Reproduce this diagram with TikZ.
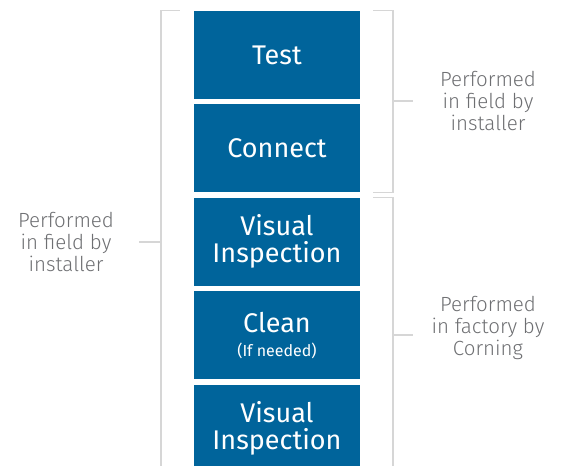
\documentclass[tikz,border=0pt]{standalone}
\usepackage{fontspec}
\setmainfont{Fira Sans}
\newfontfamily\lightfont{Fira Sans Light}
\usetikzlibrary{positioning}
\definecolor{corningblue}{HTML}{00649B}
\definecolor{bracketgray}{HTML}{D6D6D6}
\definecolor{labelgray}{HTML}{6E6F72}
\tikzset{
    stepbox/.style={fill=corningblue,text=white,minimum width=166pt,minimum height=88pt,
      inner sep=0pt,align=center,font=\fontsize{27}{27}\selectfont},
    bracket/.style={draw=bracketgray,line width=1.3pt},
    sidelabel/.style={text=labelgray,align=center,font=\lightfont\fontsize{20.5}{22}\selectfont},
  }
\begin{document}
\begin{tikzpicture}[x=1pt,y=-1pt]
                                    %cadre de la page
                                    \useasboundingbox (0,0) rectangle (563,466);
                                    %les etapes
                                    \node[stepbox] (test) at (277,55) {Test};
                                    \node[stepbox,below=5pt of test] (connect) {Connect};
                                    \node[stepbox,below=5pt of connect] (visual1) {Visual\\Inspection};
                                    \node[stepbox,below=5pt of visual1] (clean) {Clean\\[-3pt]{\fontsize{16}{18}\selectfont (If needed)}};
                                    \node[stepbox,below=5pt of clean] (visual2) {Visual\\Inspection};
                                    %les textes
                                    \node[sidelabel] (installerL) at (66,242) {Performed\\in field by\\installer};
                                    \node[sidelabel] (installerR) at (488,101) {Performed\\in field by\\installer};
                                    \node[sidelabel] (factory) at (488,328) {Performed\\in factory by\\Corning};
                                    %accolade gauche
                                    \coordinate (L) at (161,0);
                                    \coordinate (R) at (393,0);
                                    \draw[bracket] ([xshift=-14pt]test.north west) -- (test.north west -| L) -- (visual2.south west -| L);
                                    \draw[bracket] (L |- 0,242) -- ++(-22pt,0) coordinate (tickL);
                                    %accolades droites
                                    \draw[bracket] ([xshift=13pt]test.north east) -- (test.north east -| R)
                                        -- (connect.south east -| R) -- ([xshift=13pt]connect.south east);
                                    \draw[bracket] (R |- 0,101) -- ++(20pt,0) coordinate (tickR);
                                    \draw[bracket] ([xshift=13pt]visual1.north east) -- (visual1.north east -| R) -- (visual2.south east -| R);
                                    \draw[bracket] (R |- 0,335) -- ++(20pt,0) coordinate (tickF);
\end{tikzpicture}
\end{document}
